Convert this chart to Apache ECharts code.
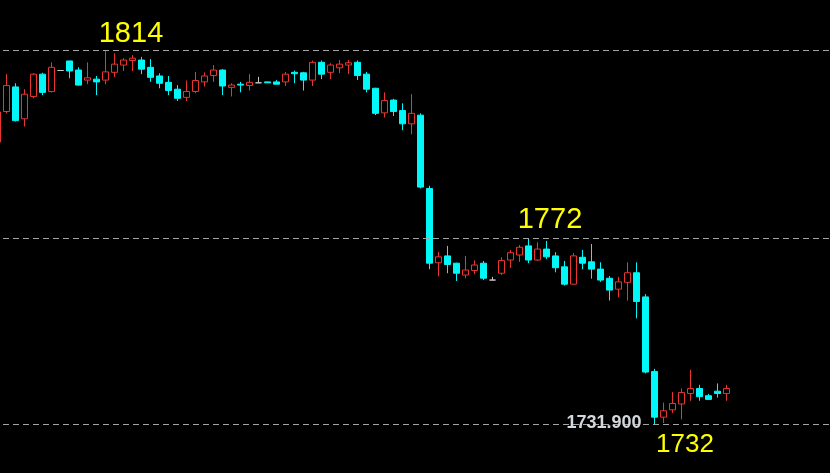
<!DOCTYPE html>
<html><head><meta charset="utf-8">
<script src="https://cdn.jsdelivr.net/npm/echarts@6/dist/echarts.min.js"></script>
<style>html,body{margin:0;padding:0;background:#000;overflow:hidden;width:830px;height:473px}#c{width:837px;height:473px;margin-left:-7px}</style>
</head><body><div id="c"></div>
<script>
// Candle values (k = 0..81)
const opens = [1793.8,1800.5,1805.9,1798.9,1803.8,1808.7,1804.9,1809.5,1811.6,1809.6,
  1807.4,1807.6,1807.4,1809.1,1810.7,1811.7,1811.8,1810.2,1808.3,1806.9,
  1805.4,1803.6,1804.9,1807.0,1808.4,1809.6,1805.8,1806.5,1806.2,1806.8,
  1807.0,1807.0,1807.0,1809.1,1809.0,1807.4,1811.3,1809.1,1810.1,1810.7,
  1811.3,1808.7,1805.6,1800.2,1803.0,1800.7,1797.8,1799.7,1783.6,1767.3,
  1768.8,1767.2,1764.6,1765.6,1767.2,1763.5,1765.0,1767.9,1769.0,1771.0,
  1767.9,1770.3,1768.8,1766.4,1762.6,1768.5,1767.5,1765.9,1763.9,1761.5,
  1763.0,1765.1,1759.8,1743.4,1733.4,1735.0,1736.3,1738.6,1739.7,1738.1,
  1739.1,1738.6];
const closes = [1800.4,1806.2,1798.5,1804.3,1808.7,1804.7,1810.2,1809.5,1809.4,1806.3,
  1807.9,1807.0,1809.2,1810.9,1811.8,1812.2,1809.8,1808.0,1806.7,1805.1,
  1803.4,1804.9,1807.3,1808.3,1809.6,1806.1,1806.3,1806.3,1806.9,1806.8,
  1806.8,1806.5,1808.7,1808.8,1807.4,1811.3,1808.7,1810.7,1810.9,1811.2,
  1808.4,1805.4,1800.1,1802.9,1800.5,1797.8,1800.1,1783.9,1767.2,1768.6,
  1766.9,1765.0,1765.7,1766.8,1763.9,1763.5,1767.8,1769.5,1770.7,1767.9,
  1770.3,1768.6,1766.2,1762.6,1768.8,1767.2,1765.9,1763.5,1761.3,1763.1,
  1765.1,1758.8,1743.3,1733.4,1734.8,1736.4,1738.8,1739.7,1737.9,1737.3,
  1738.6,1739.7];
const lows = [1793.6,1800.1,1798.3,1797.2,1803.4,1804.1,1804.7,1809.5,1807.8,1806.2,
  1806.5,1804.1,1806.5,1808.1,1809.4,1809.4,1808.7,1807.0,1805.6,1804.1,
  1802.8,1802.8,1804.5,1806.0,1807.0,1804.1,1803.8,1804.7,1805.1,1806.8,
  1806.8,1806.5,1806.1,1806.7,1805.1,1806.1,1807.6,1807.6,1808.9,1808.7,
  1807.4,1804.7,1799.7,1799.2,1799.5,1796.4,1795.5,1783.6,1765.9,1764.3,
  1765.0,1763.3,1763.9,1764.8,1763.5,1763.5,1764.6,1766.2,1767.5,1767.2,
  1767.7,1768.1,1765.2,1762.3,1762.5,1765.9,1763.8,1763.1,1759.0,1759.7,
  1759.0,1755.1,1743.0,1731.9,1732.1,1734.3,1732.9,1737.0,1737.0,1737.3,
  1737.7,1737.0];
const highs = [1800.8,1808.7,1806.7,1805.4,1808.9,1809.0,1811.3,1809.5,1811.6,1810.2,
  1811.3,1808.3,1814.0,1813.3,1812.2,1812.9,1812.5,1812.0,1808.9,1808.3,
  1806.3,1807.3,1809.2,1809.1,1810.7,1809.8,1806.7,1807.0,1808.7,1808.1,
  1807.0,1807.4,1809.2,1809.5,1809.2,1811.7,1811.7,1811.1,1811.8,1811.8,
  1811.7,1809.2,1805.7,1804.7,1803.3,1802.3,1804.3,1800.1,1784.2,1769.7,
  1771.0,1767.3,1768.8,1767.8,1767.7,1764.2,1768.5,1770.1,1771.2,1772.7,
  1771.8,1772.1,1769.6,1767.7,1769.4,1770.1,1771.4,1767.4,1764.4,1764.2,
  1767.4,1767.4,1760.4,1744.0,1736.6,1738.9,1739.7,1743.8,1740.5,1738.5,
  1740.8,1740.5];
// 82 candles plus empty slots on the right
const slotCount = 93;
const categories = Array.from({length: slotCount}, (_, i) => String(i + 1));
const levels = [1814.0, 1772.7, 1731.9];
const levelLabels = ['1814', '1772', '1732'];
const lowPriceLabel = '1731.900';

const candles = opens.map((o, i) => [o, closes[i], lows[i], highs[i]]);

const chart = echarts.init(document.getElementById('c'), null, {renderer: 'canvas'});
chart.setOption({
  animation: false,
  backgroundColor: '#000000',
  grid: {left: 0, right: 0, top: 0, bottom: 0},
  xAxis: {type: 'category', data: categories, show: false, boundaryGap: true},
  yAxis: {type: 'value', min: 1721.14, max: 1824.98, show: false, splitLine: {show: false}},
  series: [{
    type: 'candlestick',
    data: candles,
    barWidth: 6,
    itemStyle: {
      color: '#000000',
      color0: '#00f8f8',
      borderColor: '#ea3430',
      borderColor0: '#00f8f8',
      borderColorDoji: '#c8c8c8',
      borderWidth: 1
    },
    markLine: {
      silent: true,
      symbol: ['none', 'none'],
      label: {show: false},
      lineStyle: {color: '#a4a4a4', type: [6, 4], width: 1},
      data: levels.map(v => ({yAxis: v}))
    }
  }]
});

// chart canvas is offset 7px to the left of the page
const off = 7;
const py = v => chart.convertToPixel({yAxisIndex: 0}, v);
const labelSpecs = [
  {x: 131, dy: -16, size: 29},
  {x: 550, dy: -18, size: 29},
  {x: 685, dy: 21, size: 26}
];
const graphics = levelLabels.map((t, i) => ({
  type: 'text',
  x: labelSpecs[i].x + off,
  y: py(levels[i]) + labelSpecs[i].dy,
  z: 100,
  style: {
    text: t, fill: '#ffff00',
    font: labelSpecs[i].size + 'px "Liberation Sans", Arial, sans-serif',
    textAlign: 'center', textVerticalAlign: 'middle',
    align: 'center', verticalAlign: 'middle'
  }
}));
graphics.push({
  type: 'text',
  x: 604 + off,
  y: py(levels[2]) - 1,
  z: 100,
  style: {
    text: lowPriceLabel, fill: '#d4d8dc',
    font: 'bold 18px "Liberation Sans", Arial, sans-serif',
    textAlign: 'center', textVerticalAlign: 'middle',
    align: 'center', verticalAlign: 'middle',
    textShadowColor: 'rgba(70,130,220,0.9)', textShadowOffsetX: -1, textShadowBlur: 0
  }
});
chart.setOption({graphic: graphics});
</script>
</body></html>
